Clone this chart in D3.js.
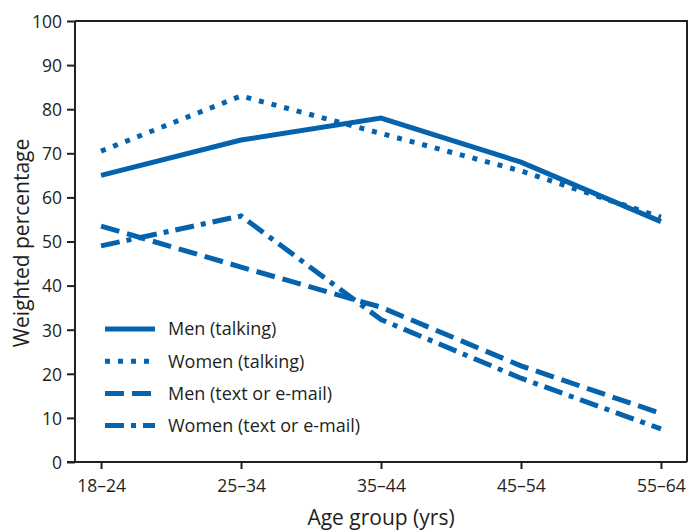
<!DOCTYPE html>
<html><head><meta charset="utf-8">
<script src="https://cdn.jsdelivr.net/npm/d3@7"></script>
<style>body{margin:0;background:#fff}svg{display:block}text{font-family:"Open Sans",sans-serif;fill:#231f20}</style>
</head><body><svg id="c" width="691" height="531"></svg>
<script>
const categories = ["18–24","25–34","35–44","45–54","55–64"];
const menTalking = [65, 73, 78, 68, 54.5];
const womenTalking = [70.5, 83, 74.5, 66, 55.5];
const menText = [53.5, 44.2, 35.1, 21.8, 11];
const womenText = [49, 55.8, 32.3, 19, 7.5];
const yTicks = [0,10,20,30,40,50,60,70,80,90,100];
const seriesNames = ["Men (talking)","Women (talking)","Men (text or e-mail)","Women (text or e-mail)"];

const svg = d3.select("#c");
const L=75,R=687,T=21,B=462;
const x = d3.scalePoint().domain(categories).range([L,R]).padding(0.186);
const y = d3.scaleLinear().domain([0,100]).range([B,T]);
const color="#0562ac", ink="#231f20";
const dashes=[null,"5,8","19,8","19,7,5,7"];
const series=[menTalking,womenTalking,menText,womenText];

svg.append("path").attr("d",`M${L},${T}H${R}V${B}`).attr("fill","none").attr("stroke",ink).attr("stroke-width",2);

const ya = svg.append("g").attr("transform",`translate(${L},0)`).call(d3.axisLeft(y).tickValues(yTicks).tickSize(8).tickPadding(5));
const xa = svg.append("g").attr("transform",`translate(0,${B})`).call(d3.axisBottom(x).tickSize(7).tickPadding(6));
[ya,xa].forEach(a=>{a.select(".domain").attr("stroke",ink).attr("stroke-width",2);
 a.selectAll(".tick line").attr("stroke",ink).attr("stroke-width",2);
 a.selectAll(".tick text").style("font-size","17.5px").style("fill",ink).style("font-family","'Open Sans',sans-serif");});
ya.select(".domain").attr("d",`M0,${B+1}V${T}`);
xa.select(".domain").attr("d",`M${L-8},0H${R}`);
ya.selectAll(".tick text").attr("dy","0.36em");
xa.selectAll(".tick text").attr("dy",null).attr("y",30);

const line=d3.line().x((d,i)=>x(categories[i])).y(d=>y(d));
series.forEach((s,k)=>{
  svg.append("path").datum(s).attr("d",line).attr("fill","none").attr("stroke",color)
   .attr("stroke-width",5).attr("stroke-dasharray",dashes[k]);
});

const lg=svg.append("g");
seriesNames.forEach((n,k)=>{
  const yy=329+k*32.2;
  lg.append("line").attr("x1",105).attr("x2",155).attr("y1",yy).attr("y2",yy)
    .attr("stroke",color).attr("stroke-width",5).attr("stroke-dasharray",dashes[k]);
  lg.append("text").attr("x",168).attr("y",yy).attr("dy","0.36em").style("font-size","18px").text(n);
});

svg.append("text").attr("x",381).attr("y",525).attr("text-anchor","middle").style("font-size","21px").text("Age group (yrs)");
svg.append("text").attr("transform","translate(29,243) rotate(-90)").attr("text-anchor","middle").style("font-size","21px").text("Weighted percentage");
</script></body></html>
